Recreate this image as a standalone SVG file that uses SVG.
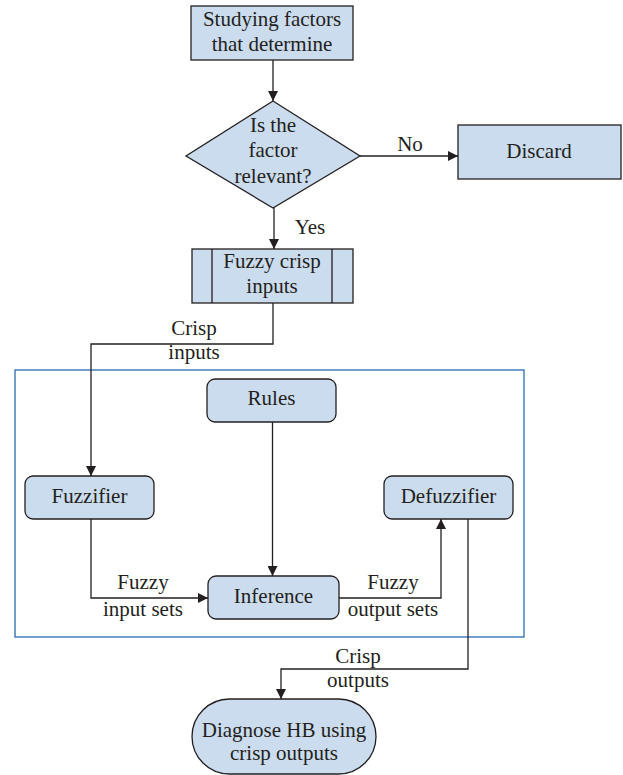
<svg xmlns="http://www.w3.org/2000/svg" width="623" height="775" viewBox="0 0 623 775">
<style>
.n{fill:#cbdcee;stroke:#231f20;stroke-width:1.3}
.t{font-family:"Liberation Serif",serif;font-size:21px;fill:#231f20;text-anchor:middle}
.c{fill:none;stroke:#231f20;stroke-width:1.3}
</style>
<defs>
<marker id="ah" viewBox="0 0 10 10" refX="10" refY="5" markerWidth="10" markerHeight="10" markerUnits="userSpaceOnUse" orient="auto">
<path d="M0,0 L10,5 L0,10 z" fill="#231f20"/>
</marker>
</defs>
<rect x="15" y="370" width="509" height="267" fill="none" stroke="#2a6bb0" stroke-width="1.3"/>
<g id="connectors">
<path class="c" d="M273,60 V101" marker-end="url(#ah)"/>
<path class="c" d="M360,156 H458" marker-end="url(#ah)"/>
<path class="c" d="M274,208 V249" marker-end="url(#ah)"/>
<path class="c" d="M273,303 V344 H91 V476" marker-end="url(#ah)"/>
<path class="c" d="M272.5,422 V576" marker-end="url(#ah)"/>
<path class="c" d="M91,519 V598 H208" marker-end="url(#ah)"/>
<path class="c" d="M339,598 H441 V519" marker-end="url(#ah)"/>
<path class="c" d="M468,519 V669 H281 V699" marker-end="url(#ah)"/>
<text class="t" x="410" y="151">No</text>
<text class="t" x="310" y="234">Yes</text>
<text class="t" x="194" y="335">Crisp</text>
<text class="t" x="194" y="359">inputs</text>
<text class="t" x="143" y="589">Fuzzy</text>
<text class="t" x="143" y="616">input sets</text>
<text class="t" x="393" y="589">Fuzzy</text>
<text class="t" x="393" y="616">output sets</text>
<text class="t" x="358" y="663">Crisp</text>
<text class="t" x="358" y="687">outputs</text>
</g>
<g id="studying">
<rect class="n" x="191" y="6" width="162" height="54"/>
<text class="t" x="272" y="26">Studying factors</text>
<text class="t" x="272" y="51">that determine</text>
</g>
<g id="decision">
<polygon class="n" points="273,101 360,156 273,208 186,156"/>
<text class="t" x="273" y="132">Is the</text>
<text class="t" x="273" y="157">factor</text>
<text class="t" x="273" y="183">relevant?</text>
</g>
<g id="discard">
<rect class="n" x="458" y="125" width="163" height="54"/>
<text class="t" x="539" y="158">Discard</text>
</g>
<g id="fuzzycrisp">
<rect class="n" x="192" y="249" width="161" height="54"/>
<line class="c" x1="212" y1="249" x2="212" y2="303"/>
<line class="c" x1="332" y1="249" x2="332" y2="303"/>
<text class="t" x="272" y="268">Fuzzy crisp</text>
<text class="t" x="272" y="293">inputs</text>
</g>
<g id="rules">
<rect class="n" x="207" y="379" width="129" height="43" rx="8"/>
<text class="t" x="271.5" y="405">Rules</text>
</g>
<g id="fuzzifier">
<rect class="n" x="25" y="476" width="129" height="43" rx="8"/>
<text class="t" x="89.5" y="503">Fuzzifier</text>
</g>
<g id="defuzzifier">
<rect class="n" x="384" y="476" width="129" height="43" rx="8"/>
<text class="t" x="448.5" y="503">Defuzzifier</text>
</g>
<g id="inference">
<rect class="n" x="208" y="576" width="131" height="43" rx="8"/>
<text class="t" x="273.5" y="603">Inference</text>
</g>
<g id="diagnose">
<rect class="n" x="192" y="699" width="184" height="75" rx="37.5"/>
<text class="t" x="284" y="737">Diagnose HB using</text>
<text class="t" x="284" y="760">crisp outputs</text>
</g>
</svg>
